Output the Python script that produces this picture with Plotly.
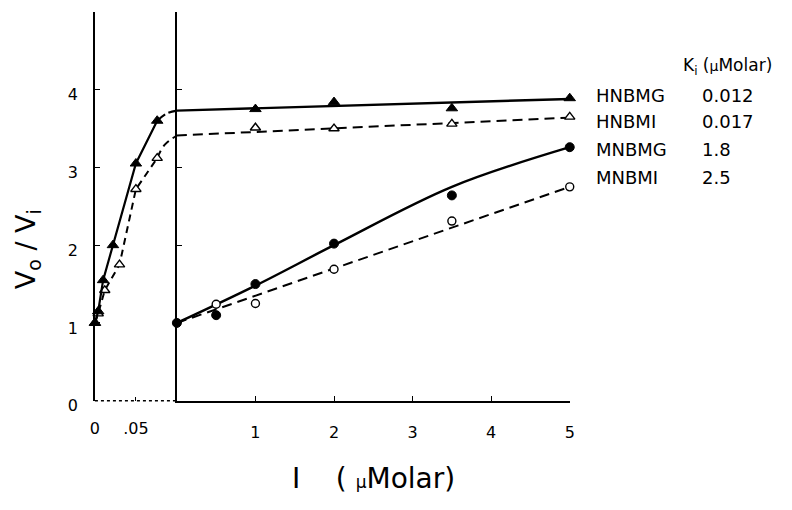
import plotly.graph_objects as go

# ---------------- data ----------------
# left (expanded) panel, I in µM 0..0.1
hnbmg_left_x = [0, 0.004, 0.01, 0.022, 0.05, 0.076]
hnbmg_left_y = [1.0, 1.15, 1.55, 2.0, 3.05, 3.6]
hnbmi_left_x = [0, 0.004, 0.012, 0.03, 0.05, 0.076]
hnbmi_left_y = [1.0, 1.12, 1.42, 1.75, 2.72, 3.12]
# connector curves toward the plateau (left panel)
hnbmg_conn_x = [0.076, 0.087, 0.1]
hnbmg_conn_y = [3.6, 3.69, 3.73]
hnbmi_conn_x = [0.076, 0.085, 0.1]
hnbmi_conn_y = [3.12, 3.29, 3.41]

# right panel, I in µM 0..5
hnbmg_x = [1, 2, 3.5, 5]
hnbmg_y = [3.75, 3.84, 3.76, 3.89]
hnbmi_x = [1, 2, 3.5, 5]
hnbmi_y = [3.51, 3.5, 3.56, 3.65]
mnbmg_x = [0, 0.5, 1, 2, 3.5, 5]
mnbmg_y = [1.0, 1.1, 1.5, 2.02, 2.64, 3.26]
mnbmi_x = [0.5, 1, 2, 3.5, 5]
mnbmi_y = [1.24, 1.25, 1.69, 2.31, 2.75]

# fitted curves
hnbmg_fit_x = [0, 5]
hnbmg_fit_y = [3.73, 3.88]
hnbmi_fit_x = [0, 5]
hnbmi_fit_y = [3.41, 3.64]
mnbmg_fit_x = [0, 1, 2, 3.5, 5]
mnbmg_fit_y = [1.0, 1.48, 2.0, 2.75, 3.26]
mnbmi_fit_x = [0, 5]
mnbmi_fit_y = [1.0, 2.75]

# legend table
legend_names = ["HNBMG", "HNBMI", "MNBMG", "MNBMI"]
legend_ki = ["0.012", "0.017", "1.8", "2.5"]

left_ticks = [0, 0.05]
left_ticktext = ["0", ".05"]
right_ticks = [1, 2, 3, 4, 5]
right_ticktext = ["1", "2", "3", "4", "5"]
y_ticks = [0, 1, 2, 3, 4, 5]
y_ticktext = ["0", "1", "2", "3", "4", ""]

# ---------------- styling ----------------
OFF = 8                     # default page body margin
W, H = 792 - 2 * OFF, 510 - 2 * OFF
FONT = "DejaVu Sans, Verdana, sans-serif"
BLACK = "black"
DASH = "10px,6px"

def px(x):
    return (x - OFF) / W

def py(y):
    return 1 - (y - OFF) / H

fig = go.Figure()

def filled_tri():
    return dict(symbol="triangle-up", size=10, color=BLACK, line=dict(color=BLACK, width=1))

def open_tri():
    return dict(symbol="triangle-up", size=9, color="white", line=dict(color=BLACK, width=1.4))

def filled_circ():
    return dict(symbol="circle", size=9, color=BLACK, line=dict(color=BLACK, width=1))

def open_circ():
    return dict(symbol="circle", size=8, color="white", line=dict(color=BLACK, width=1.4))

# left panel
fig.add_trace(go.Scatter(x=hnbmi_conn_x, y=hnbmi_conn_y, mode="lines", xaxis="x", yaxis="y",
                         line=dict(color=BLACK, width=2, dash="8px,5px", shape="spline"), cliponaxis=False))
fig.add_trace(go.Scatter(x=hnbmg_conn_x, y=hnbmg_conn_y, mode="lines", xaxis="x", yaxis="y",
                         line=dict(color=BLACK, width=2.2, dash="10px,4px", shape="spline"), cliponaxis=False))
fig.add_trace(go.Scatter(x=hnbmi_left_x, y=hnbmi_left_y, mode="lines+markers", xaxis="x", yaxis="y",
                         line=dict(color=BLACK, width=2, dash="7px,5px"), marker=open_tri(), cliponaxis=False))
fig.add_trace(go.Scatter(x=hnbmg_left_x, y=hnbmg_left_y, mode="lines+markers", xaxis="x", yaxis="y",
                         line=dict(color=BLACK, width=2.2), marker=filled_tri(), cliponaxis=False))

# right panel fitted curves
fig.add_trace(go.Scatter(x=hnbmg_fit_x, y=hnbmg_fit_y, mode="lines", xaxis="x2", yaxis="y2",
                         line=dict(color=BLACK, width=2.4), cliponaxis=False))
fig.add_trace(go.Scatter(x=hnbmi_fit_x, y=hnbmi_fit_y, mode="lines", xaxis="x2", yaxis="y2",
                         line=dict(color=BLACK, width=2, dash=DASH), cliponaxis=False))
fig.add_trace(go.Scatter(x=mnbmg_fit_x, y=mnbmg_fit_y, mode="lines", xaxis="x2", yaxis="y2",
                         line=dict(color=BLACK, width=2.4, shape="spline"), cliponaxis=False))
fig.add_trace(go.Scatter(x=mnbmi_fit_x, y=mnbmi_fit_y, mode="lines", xaxis="x2", yaxis="y2",
                         line=dict(color=BLACK, width=2, dash=DASH), cliponaxis=False))

# right panel markers
fig.add_trace(go.Scatter(x=hnbmg_x, y=hnbmg_y, mode="markers", xaxis="x2", yaxis="y2",
                         marker=filled_tri(), cliponaxis=False))
fig.add_trace(go.Scatter(x=hnbmi_x, y=hnbmi_y, mode="markers", xaxis="x2", yaxis="y2",
                         marker=open_tri(), cliponaxis=False))
fig.add_trace(go.Scatter(x=mnbmi_x, y=mnbmi_y, mode="markers", xaxis="x2", yaxis="y2",
                         marker=open_circ(), cliponaxis=False))
fig.add_trace(go.Scatter(x=mnbmg_x, y=mnbmg_y, mode="markers", xaxis="x2", yaxis="y2",
                         marker=filled_circ(), cliponaxis=False))

ydom = [py(413), py(12)]
tickfont = dict(family=FONT, size=16, color=BLACK)

fig.update_layout(
    width=W, height=H,
    margin=dict(l=0, r=0, t=0, b=0),
    paper_bgcolor="white", plot_bgcolor="white",
    showlegend=False,
    font=dict(family=FONT, color=BLACK),
    xaxis=dict(domain=[px(91), px(174)], range=[0, 0.1], anchor="y",
               showline=False, showgrid=False, zeroline=False,
               tickvals=left_ticks, ticktext=left_ticktext, ticks="inside",
               ticklen=4, tickwidth=1.2, tickcolor=BLACK, tickfont=tickfont,
               ticklabelstandoff=16),
    yaxis=dict(domain=ydom, range=[0, 5], anchor="x",
               showline=True, linecolor=BLACK, linewidth=1.6, mirror=False,
               showgrid=False, zeroline=False,
               tickvals=y_ticks, ticktext=y_ticktext, ticks="inside",
               ticklen=5, tickwidth=1.2, tickcolor=BLACK, tickfont=tickfont,
               ticklabelstandoff=12, ticklabelshift=5),
    xaxis2=dict(domain=[px(174), px(572)], range=[0, 5], anchor="y2",
                showline=True, linecolor=BLACK, linewidth=1.6,
                showgrid=False, zeroline=False,
                tickvals=right_ticks, ticktext=right_ticktext, ticks="inside",
                ticklen=5, tickwidth=1.2, tickcolor=BLACK, tickfont=tickfont,
                ticklabelstandoff=16),
    yaxis2=dict(domain=ydom, range=[0, 5], anchor="x2",
                showline=True, linecolor=BLACK, linewidth=1.6,
                showgrid=False, zeroline=False,
                tickvals=right_ticks, ticks="inside", showticklabels=False,
                ticklen=5, tickwidth=1.2, tickcolor=BLACK),
)

# dotted baseline of the left (expanded) panel
fig.add_shape(type="line", xref="x domain", yref="y domain", x0=0, x1=1, y0=0, y1=0,
              line=dict(color=BLACK, width=1.4, dash="dot"))

# axis titles
fig.add_annotation(text="V<sub>o</sub> / V<sub>i</sub>", xref="paper", yref="paper",
                   x=px(23), y=py(257), textangle=-90, showarrow=False,
                   xanchor="center", yanchor="middle",
                   font=dict(family=FONT, size=27, color=BLACK))
fig.add_annotation(text="I&nbsp;&nbsp;&nbsp;&nbsp;( <span style='font-size:17px'>μ</span>Molar)",
                   xref="paper", yref="paper", x=px(289), y=py(493), xanchor="left",
                   yanchor="middle", showarrow=False,
                   font=dict(family=FONT, size=28, color=BLACK))

# Ki table
fig.add_annotation(text="K<sub>i</sub> (<span style='font-size:14px'>μ</span>Molar)",
                   xref="paper", yref="paper", x=px(685), y=py(68), xanchor="left",
                   yanchor="middle", showarrow=False,
                   font=dict(family=FONT, size=17, color=BLACK))
row_y = [98, 125, 154, 183]
for name, ki, yy in zip(legend_names, legend_ki, row_y):
    fig.add_annotation(text=name, xref="paper", yref="paper", x=px(597), y=py(yy),
                       xanchor="left", yanchor="middle", showarrow=False,
                       font=dict(family=FONT, size=18, color=BLACK))
    fig.add_annotation(text=ki, xref="paper", yref="paper", x=px(704), y=py(yy),
                       xanchor="left", yanchor="middle", showarrow=False,
                       font=dict(family=FONT, size=18, color=BLACK))

fig.write_html("out.html")
